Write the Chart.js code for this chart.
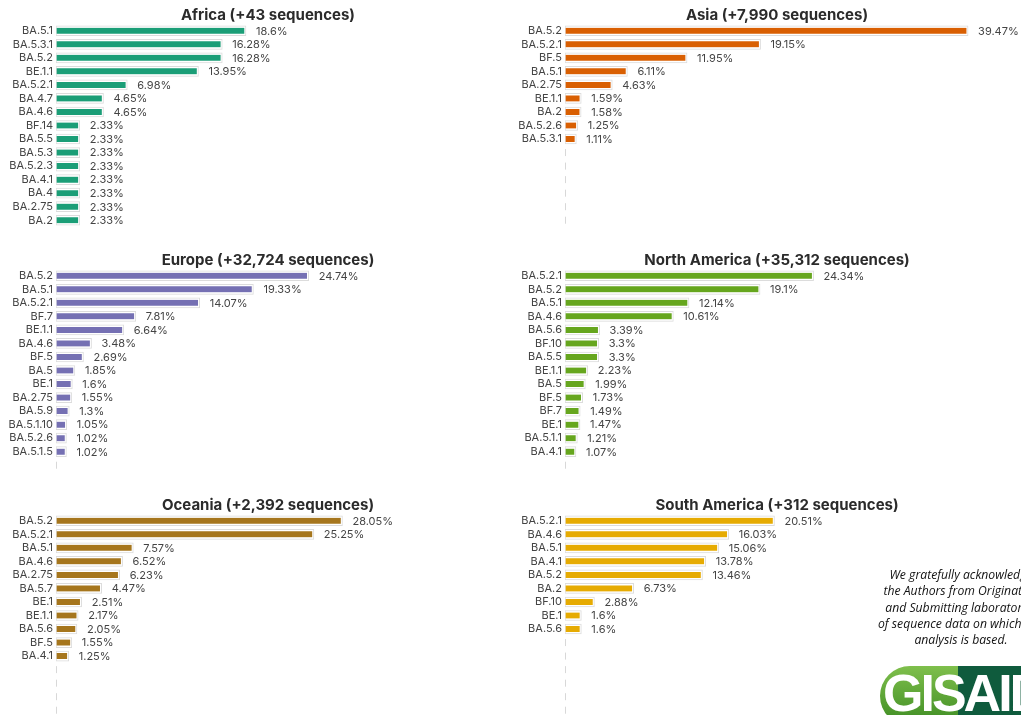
<!DOCTYPE html>
<html>
<head>
<meta charset="utf-8">
<script src="https://cdn.jsdelivr.net/npm/chart.js@4.4.1/dist/chart.umd.min.js"></script>
<style>
  html, body { margin: 0; padding: 0; background: #fff; }
  body { width: 1021px; height: 715px; position: relative; overflow: hidden; }
  canvas.panel { position: absolute; }
  #ack {
    position: absolute; left: 860px; top: 567px; width: 202px;
    font: italic 12.2px "Open Sans", sans-serif; line-height: 16.3px;
    color: #111; text-align: center;
  }
  #logo {
    position: absolute; left: 880px; top: 666px; width: 200px; height: 60px;
    border-radius: 30px;
    background: linear-gradient(to right, rgba(0,0,0,0) 78px, #0f5b3d 78px),
                linear-gradient(to bottom, #7fbf4c, #3c8b22);
    color: #fff; font: bold 52px "Liberation Sans", Arial, sans-serif;
    letter-spacing: -3px; line-height: 52px; padding: 1px 0 0 3px; box-sizing: border-box;
  }
</style>
</head>
<body>
<canvas class="panel" id="c0" width="536" height="245" style="left:0;top:0"></canvas>
<canvas class="panel" id="c1" width="536" height="245" style="left:509px;top:0"></canvas>
<canvas class="panel" id="c2" width="536" height="245" style="left:0;top:245px"></canvas>
<canvas class="panel" id="c3" width="536" height="245" style="left:509px;top:245px"></canvas>
<canvas class="panel" id="c4" width="536" height="245" style="left:0;top:490px"></canvas>
<canvas class="panel" id="c5" width="536" height="245" style="left:509px;top:490px"></canvas>
<div id="ack">We gratefully acknowledge<br>the Authors from Originating<br>and Submitting laboratories<br>of sequence data on which this<br>analysis is based.</div>
<div id="logo">GISAID</div>
<script>
// lineage share (%) per region
const africaLabels = ["BA.5.1","BA.5.3.1","BA.5.2","BE.1.1","BA.5.2.1","BA.4.7","BA.4.6","BF.14","BA.5.5","BA.5.3","BA.5.2.3","BA.4.1","BA.4","BA.2.75","BA.2"];
const africaValues = [18.6,16.28,16.28,13.95,6.98,4.65,4.65,2.33,2.33,2.33,2.33,2.33,2.33,2.33,2.33];

const asiaLabels = ["BA.5.2","BA.5.2.1","BF.5","BA.5.1","BA.2.75","BE.1.1","BA.2","BA.5.2.6","BA.5.3.1"];
const asiaValues = [39.47,19.15,11.95,6.11,4.63,1.59,1.58,1.25,1.11];

const europeLabels = ["BA.5.2","BA.5.1","BA.5.2.1","BF.7","BE.1.1","BA.4.6","BF.5","BA.5","BE.1","BA.2.75","BA.5.9","BA.5.1.10","BA.5.2.6","BA.5.1.5"];
const europeValues = [24.74,19.33,14.07,7.81,6.64,3.48,2.69,1.85,1.6,1.55,1.3,1.05,1.02,1.02];

const northAmericaLabels = ["BA.5.2.1","BA.5.2","BA.5.1","BA.4.6","BA.5.6","BF.10","BA.5.5","BE.1.1","BA.5","BF.5","BF.7","BE.1","BA.5.1.1","BA.4.1"];
const northAmericaValues = [24.34,19.1,12.14,10.61,3.39,3.3,3.3,2.23,1.99,1.73,1.49,1.47,1.21,1.07];

const oceaniaLabels = ["BA.5.2","BA.5.2.1","BA.5.1","BA.4.6","BA.2.75","BA.5.7","BE.1","BE.1.1","BA.5.6","BF.5","BA.4.1"];
const oceaniaValues = [28.05,25.25,7.57,6.52,6.23,4.47,2.51,2.17,2.05,1.55,1.25];

const southAmericaLabels = ["BA.5.2.1","BA.4.6","BA.5.1","BA.4.1","BA.5.2","BA.2","BF.10","BE.1","BA.5.6"];
const southAmericaValues = [20.51,16.03,15.06,13.78,13.46,6.73,2.88,1.6,1.6];

const panelTitles = [
  "Africa (+43 sequences)", "Asia (+7,990 sequences)",
  "Europe (+32,724 sequences)", "North America (+35,312 sequences)",
  "Oceania (+2,392 sequences)", "South America (+312 sequences)"
];

const SLOTS = 15;
const FONT = "Inter, 'Noto Sans', sans-serif";

// percent label after each bar, and stub marks on empty rows
const barLabels = {
  id: 'barLabels',
  afterDatasetsDraw(chart) {
    const ctx = chart.ctx;
    const xs = chart.scales.x, ys = chart.scales.y;
    const meta = chart.getDatasetMeta(0);
    const vals = chart.data.datasets[0].data;
    ctx.save();
    ctx.font = "11px " + FONT;
    ctx.fillStyle = "#444";
    ctx.textBaseline = "middle";
    meta.data.forEach((el, i) => {
      if (vals[i] == null) return;
      ctx.fillText(vals[i] + "%", el.x + 10, el.y + 0.5);
    });
    ctx.strokeStyle = "#d8d8d8";
    ctx.lineWidth = 1;
    const x0 = Math.round(xs.getPixelForValue(0)) + 0.5;
    for (let i = 0; i < SLOTS; i++) {
      if (vals[i] != null) continue;
      const y = ys.getPixelForValue(i);
      ctx.beginPath();
      ctx.moveTo(x0, y - 3.5);
      ctx.lineTo(x0, y + 3.5);
      ctx.stroke();
    }
    ctx.restore();
  }
};

function pad(arr, fill) {
  const out = arr.slice();
  while (out.length < SLOTS) out.push(fill);
  return out;
}

function makePanel(id, title, labels, values, color) {
  const vals = pad(values, null);
  new Chart(document.getElementById(id), {
    type: 'bar',
    data: {
      labels: pad(labels, ""),
      datasets: [
        {
          data: vals,
          backgroundColor: color,
          borderColor: 'rgba(0,0,0,0)',
          borderWidth: { left: 1, right: 2, top: 0, bottom: 0 },
          borderSkipped: false,
          barThickness: 6,
          grouped: false,
          order: 0
        },
        {
          data: vals,
          backgroundColor: '#fff',
          borderColor: '#dcdcdc',
          borderWidth: 1,
          borderSkipped: false,
          barThickness: 10,
          grouped: false,
          order: 1
        }
      ]
    },
    options: {
      responsive: false,
      animation: false,
      indexAxis: 'y',
      layout: { padding: { left: 0, right: 0, top: 0, bottom: 18 } },
      plugins: {
        legend: { display: false },
        tooltip: { enabled: false },
        title: {
          display: true,
          text: title,
          color: '#2b2b2b',
          font: { family: FONT, size: 15, weight: 'bold' },
          padding: { top: 6, bottom: 0 }
        }
      },
      scales: {
        x: { display: false, min: 0, max: 47 },
        y: {
          grid: { display: false, drawTicks: false },
          border: { display: false },
          ticks: { color: '#444', font: { family: FONT, size: 11 }, padding: 3, autoSkip: false },
          afterFit(s) { s.width = 56; }
        }
      }
    },
    plugins: [barLabels]
  });
}

makePanel('c0', panelTitles[0], africaLabels, africaValues, '#1b9e77');
makePanel('c1', panelTitles[1], asiaLabels, asiaValues, '#d95f02');
makePanel('c2', panelTitles[2], europeLabels, europeValues, '#7570b3');
makePanel('c3', panelTitles[3], northAmericaLabels, northAmericaValues, '#66a61e');
makePanel('c4', panelTitles[4], oceaniaLabels, oceaniaValues, '#a6761d');
makePanel('c5', panelTitles[5], southAmericaLabels, southAmericaValues, '#e6ab02');
</script>
</body>
</html>
